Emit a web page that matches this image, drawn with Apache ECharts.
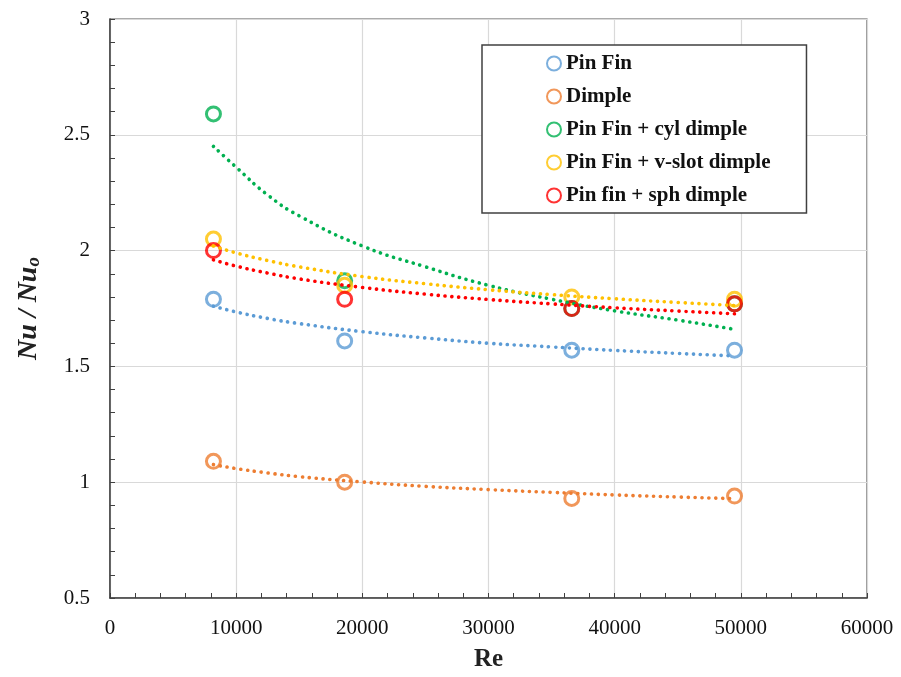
<!DOCTYPE html>
<html>
<head>
<meta charset="utf-8">
<script src="https://cdn.jsdelivr.net/npm/echarts@6/dist/echarts.min.js"></script>
<style>html,body{margin:0;padding:0;background:#fff;}#c{width:901px;height:677px;}</style>
</head>
<body>
<div id="c"></div>
<script>
// Measured points
var reX = [8200, 18600, 36600, 49500];
var pinFin = [1.79, 1.61, 1.57, 1.57];
var dimple = [1.09, 1.00, 0.93, 0.94];
var cylDimple = [2.59, 1.87, 1.75, 1.77];
var vslotDimple = [2.05, 1.85, 1.80, 1.79];
var sphDimple = [2.00, 1.79, 1.75, 1.77];

// Trend lines (dotted)
var trendX = [8200, 10000, 12500, 15000, 20000, 25000, 30000, 35000, 40000, 45000, 49500];
var pinFinTrend = [1.76, 1.735, 1.707, 1.685, 1.65, 1.623, 1.60, 1.584, 1.569, 1.556, 1.545];
var dimpleTrend = [1.076, 1.059, 1.040, 1.024, 1.001, 0.982, 0.968, 0.956, 0.945, 0.936, 0.929];
var cylTrend = [2.45, 2.36, 2.24, 2.15, 2.02, 1.93, 1.85, 1.79, 1.74, 1.70, 1.66];
var vslotTrend = [2.02, 1.99, 1.957, 1.93, 1.888, 1.857, 1.831, 1.81, 1.792, 1.776, 1.763];
var sphTrend = [1.96, 1.933, 1.903, 1.878, 1.841, 1.812, 1.789, 1.77, 1.753, 1.739, 1.727];

var names = ['Pin Fin', 'Dimple', 'Pin Fin + cyl dimple', 'Pin Fin + v-slot dimple', 'Pin fin + sph dimple'];
var colors = ['#5B9BD5', '#ED7D31', '#00B050', '#FFC000', '#FF0000'];
var pts = [pinFin, dimple, cylDimple, vslotDimple, sphDimple];
var trends = [pinFinTrend, dimpleTrend, cylTrend, vslotTrend, sphTrend];

function zip(xs, ys) { return xs.map(function (x, i) { return [x, ys[i]]; }); }

var serif = 'Liberation Serif';
var series = [];
names.forEach(function (n, i) {
  series.push({
    name: n, type: 'scatter', data: zip(reX, pts[i]),
    symbol: 'circle', symbolSize: 14,
    itemStyle: { color: 'rgba(255,255,255,0)', borderColor: colors[i], borderWidth: 3 },
    z: 2
  });
});
names.forEach(function (n, i) {
  series.push({
    name: n + ' trend', type: 'line', data: zip(trendX, trends[i]),
    smooth: true, showSymbol: false, symbol: 'none',
    lineStyle: { color: colors[i], width: 3.6, type: [0.1, 6.8], cap: 'round' },
    z: 3, silent: true
  });
});

var chart = echarts.init(document.getElementById('c'), null, { renderer: 'canvas' });
chart.setOption({
  animation: false,
  backgroundColor: '#fff',
  grid: { left: 110, right: 34, top: 19, bottom: 77, show: true, borderColor: '#595959', borderWidth: 1.2 },
  legend: {
    data: names, orient: 'vertical', left: 482, top: 45,
    padding: [8, 36, 7, 64], itemGap: 12,
    backgroundColor: '#fff', borderColor: '#404040', borderWidth: 1.5,
    itemWidth: 14, itemHeight: 14, icon: 'circle',
    textStyle: { fontFamily: serif, fontWeight: 'bold', fontSize: 21, color: '#111' }
  },
  xAxis: {
    type: 'value', min: 0, max: 60000, interval: 10000,
    name: 'Re', nameLocation: 'middle', nameGap: 49,
    nameTextStyle: { fontFamily: serif, fontWeight: 'bold', fontSize: 25, color: '#222' },
    axisLine: { show: true, lineStyle: { color: '#404040', width: 1.5 } },
    axisTick: { show: true, inside: true, length: 5, lineStyle: { color: '#404040' } },
    minorTick: { show: true, splitNumber: 5, length: 5, lineStyle: { color: '#404040' } },
    axisLabel: { fontFamily: serif, fontSize: 21, color: '#111', margin: 20, formatter: function (v) { return String(v); } },
    splitLine: { show: true, lineStyle: { color: '#d9d9d9', width: 1.2 } }
  },
  yAxis: {
    type: 'value', min: 0.5, max: 3, interval: 0.5,
    name: '{a|Nu / Nu}{s|o}', nameLocation: 'middle', nameGap: 66, nameRotate: 90,
    nameTextStyle: {
      rich: {
        a: { fontFamily: serif, fontWeight: 'bold', fontStyle: 'italic', fontSize: 28, color: '#222' },
        s: { fontFamily: serif, fontWeight: 'bold', fontStyle: 'italic', fontSize: 19, color: '#222', padding: [12, 0, 0, 0] }
      }
    },
    axisLine: { show: true, lineStyle: { color: '#404040', width: 1.5 } },
    axisTick: { show: true, inside: true, length: 5, lineStyle: { color: '#404040' } },
    minorTick: { show: true, splitNumber: 5, length: 5, lineStyle: { color: '#404040' } },
    axisLabel: { fontFamily: serif, fontSize: 21, color: '#111', margin: 20 },
    splitLine: { show: true, lineStyle: { color: '#d9d9d9', width: 1.2 } }
  },
  series: series
});
</script>
</body>
</html>
